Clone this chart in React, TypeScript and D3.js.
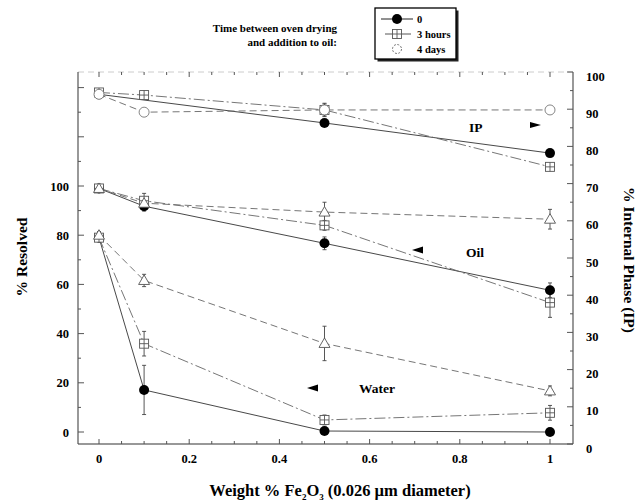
import React from "react";
import * as d3 from "d3";

const xValues = [0, 0.1, 0.5, 1];
const seriesNames = ["0", "3 hours", "4 days"];

// IP (right axis)
const ip0: (number | null)[] = [94, null, 86.3, 78.2];
const ip3h: (number | null)[] = [94.5, 93.8, 89.8, 74.5];
const ip4d: (number | null)[] = [94, 89.2, 89.8, 89.8];
const ip0Err = [0.5, 0, 0.8, 0.8];
const ip3hErr = [0.6, 0.8, 1.8, 0.8];
const ip4dErr = [0.5, 0.6, 1.6, 0.6];

// Oil (left axis)
const oil0: (number | null)[] = [99, 91.8, 76.7, 57.6];
const oil3h: (number | null)[] = [99, 94, 84, 52.6];
const oil4d: (number | null)[] = [99, 93, 89.4, 86.5];
const oil0Err = [1.2, 2, 2.6, 3];
const oil3hErr = [1.2, 3, 2, 6];
const oil4dErr = [1.2, 2, 4, 4];

// Water (left axis)
const water0: (number | null)[] = [79, 17.1, 0.4, 0];
const water3h: (number | null)[] = [79, 35.9, 4.9, 7.8];
const water4d: (number | null)[] = [80, 61.6, 36, 16.7];
const water0Err = [1.5, 10, 0.8, 0.8];
const water3hErr = [1.5, 5, 2, 3];
const water4dErr = [1.5, 2.5, 7, 2];

const xTicks = [0, 0.2, 0.4, 0.6, 0.8, 1];
const xTickLabels = ["0", "0.2", "0.4", "0.6", "0.8", "1"];
const leftTicks = [0, 20, 40, 60, 80, 100];
const rightTicks = [0, 10, 20, 30, 40, 50, 60, 70, 80, 90, 100];

const FONT = "'Liberation Serif', 'DejaVu Serif', serif";

type Kind = "filled" | "square" | "circle" | "triangle";

export default function App() {
  const x = d3.scaleLinear().domain([0, 1]).range([99, 550]);
  const yL = d3.scaleLinear().domain([0, 100]).range([432, 186]);
  const yR = d3.scaleLinear().domain([0, 100]).range([444, 72]);
  const left = 78, right = 573, top = 72, bottom = 444;

  const styles: Record<string, { dash?: string; stroke: string }> = {
    "0": { stroke: "#333" },
    "3 hours": { stroke: "#666", dash: "11,3,2,3" },
    "4 days": { stroke: "#666", dash: "7,4" },
  };

  const marker = (kind: Kind, cx: number, cy: number, key: string) => {
    if (kind === "filled") return <circle key={key} cx={cx} cy={cy} r={5} fill="#000" />;
    if (kind === "square")
      return (
        <g key={key}>
          <rect x={cx - 4.5} y={cy - 4.5} width={9} height={9} fill="#fff" stroke="#555" strokeWidth={0.9} />
          <line x1={cx - 4.5} x2={cx + 4.5} y1={cy} y2={cy} stroke="#555" strokeWidth={0.9} />
          <line x1={cx} x2={cx} y1={cy - 4.5} y2={cy + 4.5} stroke="#555" strokeWidth={0.9} />
        </g>
      );
    if (kind === "circle")
      return <circle key={key} cx={cx} cy={cy} r={5} fill="#fff" stroke="#777" strokeWidth={0.9} />;
    return (
      <path
        key={key}
        d={`M${cx},${cy - 5.5}L${cx + 5.5},${cy + 4}L${cx - 5.5},${cy + 4}Z`}
        fill="#fff"
        stroke="#555"
        strokeWidth={0.9}
      />
    );
  };

  const drawLine = (
    id: string,
    vals: (number | null)[],
    errs: number[],
    y: d3.ScaleLinear<number, number>,
    name: string
  ) => {
    const pts = xValues
      .map((xv, i) => ({ xv, v: vals[i], e: errs[i] }))
      .filter((p) => p.v !== null) as { xv: number; v: number; e: number }[];
    const line = d3
      .line<{ xv: number; v: number }>()
      .x((p) => x(p.xv))
      .y((p) => y(p.v));
    const st = styles[name];
    return (
      <g key={id}>
        <path d={line(pts) || ""} fill="none" stroke={st.stroke} strokeWidth={0.9} strokeDasharray={st.dash} />
        {pts.map((p, i) =>
          p.e > 0.7 ? (
            <g key={"e" + i} stroke="#444" strokeWidth={0.9}>
              <line x1={x(p.xv)} x2={x(p.xv)} y1={y(p.v - p.e)} y2={y(p.v + p.e)} />
              <line x1={x(p.xv) - 2} x2={x(p.xv) + 2} y1={y(p.v - p.e)} y2={y(p.v - p.e)} />
              <line x1={x(p.xv) - 2} x2={x(p.xv) + 2} y1={y(p.v + p.e)} y2={y(p.v + p.e)} />
            </g>
          ) : null
        )}
      </g>
    );
  };

  const drawMarkers = (
    id: string,
    vals: (number | null)[],
    y: d3.ScaleLinear<number, number>,
    kind: Kind
  ) => (
    <g key={id + "mk"}>
      {xValues.map((xv, i) => (vals[i] === null ? null : marker(kind, x(xv), y(vals[i] as number), id + i)))}
    </g>
  );

  const xMinor = d3.range(0, 1.0001, 0.05);
  const leftMinor = d3.range(0, 150, 10).filter((v) => yL(v) >= top);
  const rightMinor = d3.range(0, 100.1, 5);

  const groups: [string, (number | null)[], number[], d3.ScaleLinear<number, number>, string, Kind][] = [
    ["ip0", ip0, ip0Err, yR, seriesNames[0], "filled"],
    ["ip3", ip3h, ip3hErr, yR, seriesNames[1], "square"],
    ["ip4", ip4d, ip4dErr, yR, seriesNames[2], "circle"],
    ["oil0", oil0, oil0Err, yL, seriesNames[0], "filled"],
    ["oil3", oil3h, oil3hErr, yL, seriesNames[1], "square"],
    ["oil4", oil4d, oil4dErr, yL, seriesNames[2], "triangle"],
    ["w0", water0, water0Err, yL, seriesNames[0], "filled"],
    ["w3", water3h, water3hErr, yL, seriesNames[1], "square"],
    ["w4", water4d, water4dErr, yL, seriesNames[2], "triangle"],
  ];

  return (
    <svg
      width={641}
      height={504}
      style={{ position: "absolute", left: 0, top: 0, background: "#fff" }}
      fontFamily={FONT}
      fontWeight="bold"
    >
      <rect width={641} height={504} fill="#fff" />
      {/* frame */}
      <line x1={left} x2={right} y1={bottom} y2={bottom} stroke="#333" strokeWidth={1.2} />
      <line x1={left} x2={right} y1={top} y2={top} stroke="#ccc" strokeWidth={1} strokeDasharray="6,4" />
      <line x1={left} x2={left} y1={top} y2={bottom} stroke="#444" strokeWidth={1.1} />
      <line x1={right} x2={right} y1={top} y2={bottom} stroke="#444" strokeWidth={1.1} />

      {/* x ticks */}
      {xMinor.map((v, i) => (
        <g key={"xt" + i} stroke="#555">
          <line x1={x(v)} x2={x(v)} y1={bottom} y2={bottom - (i % 4 === 0 ? 5 : 3)} />
          <line x1={x(v)} x2={x(v)} y1={top} y2={top + (i % 4 === 0 ? 5 : 3)} />
        </g>
      ))}
      {xTicks.map((v, i) => (
        <text key={"xl" + i} x={x(v)} y={463} fontSize={12.5} textAnchor="middle">
          {xTickLabels[i]}
        </text>
      ))}

      {/* left axis */}
      {leftMinor.map((v, i) => (
        <line key={"lt" + i} x1={left} x2={left + (v % 20 === 0 ? 6 : 3)} y1={yL(v)} y2={yL(v)} stroke="#555" />
      ))}
      {leftTicks.map((v) => (
        <text key={"ll" + v} x={69} y={yL(v) + 4.5} fontSize={12.5} textAnchor="end">
          {v}
        </text>
      ))}

      {/* right axis */}
      {rightMinor.map((v, i) => (
        <line key={"rt" + i} x1={right} x2={right - (v % 10 === 0 ? 6 : 3)} y1={yR(v)} y2={yR(v)} stroke="#555" />
      ))}
      {rightTicks.map((v) => (
        <text key={"rl" + v} x={586} y={yR(v) + 8.5} fontSize={12.5} textAnchor="start">
          {v}
        </text>
      ))}

      {/* series lines + error bars, then markers (filled under open ones) */}
      {groups.map((g) => drawLine(g[0], g[1], g[2], g[3], g[4]))}
      {groups.map((g) => drawMarkers(g[0], g[1], g[3], g[5]))}

      {/* group labels with arrows */}
      <text x={469} y={132} fontSize={13.5}>IP</text>
      <path d="M530,122L541,125L530,128Z" fill="#000" />
      <text x={466} y={257} fontSize={13.5}>Oil</text>
      <path d="M423,246.5L412,250L423,253.5Z" fill="#000" />
      <text x={359} y={393} fontSize={13.5}>Water</text>
      <path d="M318,384.5L307,388L318,391.5Z" fill="#000" />

      {/* axis titles */}
      <text transform="translate(27,257) rotate(-90)" fontSize={15.5} textAnchor="middle">
        % Resolved
      </text>
      <text transform="translate(624,260) rotate(90)" fontSize={15.5} textAnchor="middle">
        % Internal Phase (IP)
      </text>
      <text x={340} y={496} fontSize={16.5} textAnchor="middle">
        Weight % Fe<tspan fontSize={9} dy={4}>2</tspan>
        <tspan dy={-4}>O</tspan>
        <tspan fontSize={9} dy={4}>3</tspan>
        <tspan dy={-4}> (0.026 µm diameter)</tspan>
      </text>

      {/* legend caption */}
      <text x={337} y={32} fontSize={11} textAnchor="end">Time between oven drying</text>
      <text x={337} y={46} fontSize={11} textAnchor="end">and addition to oil:</text>

      {/* legend */}
      <rect x={377.5} y={10.5} width={81} height={51} fill="#222" />
      <rect x={375} y={8} width={81} height={51} fill="#fff" stroke="#000" strokeWidth={1.3} />
      <line x1={381} x2={413} y1={19} y2={19} stroke="#222" />
      {marker("filled", 397, 19, "lg0")}
      <text x={417} y={22.5} fontSize={10.5}>{seriesNames[0]}</text>
      <line x1={385} x2={411} y1={34} y2={34} stroke="#555" />
      {marker("square", 397, 34, "lg1")}
      <text x={417} y={37.5} fontSize={10.5}>{seriesNames[1]}</text>
      <circle cx={397} cy={49} r={4.5} fill="#fff" stroke="#777" strokeDasharray="2,1.5" />
      <text x={417} y={52.5} fontSize={10.5}>{seriesNames[2]}</text>
    </svg>
  );
}
